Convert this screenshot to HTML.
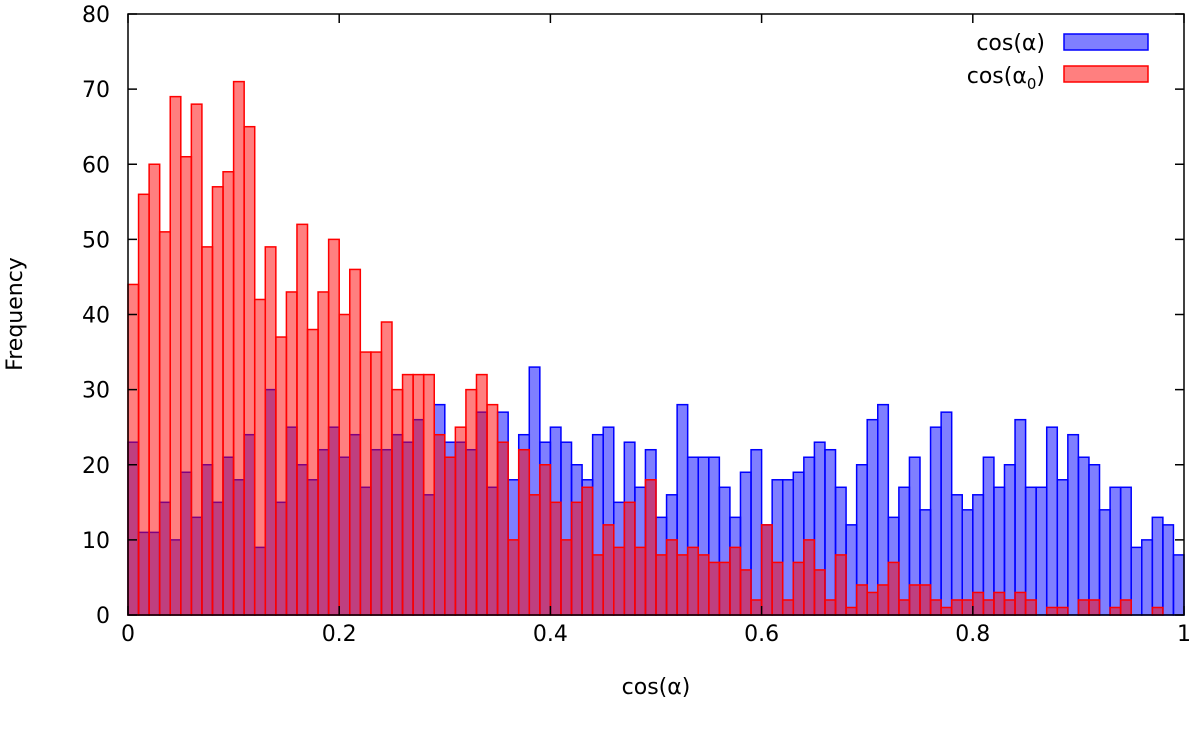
<!DOCTYPE html>
<html><head><meta charset="utf-8"><style>
body{margin:0;background:#fff;}
svg{display:block;font-family:"DejaVu Sans","Liberation Sans",sans-serif;}
</style></head><body>
<svg id="chart" width="1200" height="734" viewBox="0 0 1200 734" xmlns="http://www.w3.org/2000/svg">
<g id="bars"></g>
<rect x="128" y="14" width="1056" height="601" fill="none" stroke="#000" stroke-width="1.5"/>
<g id="ticks"></g>
<text x="656" y="694" font-size="22" text-anchor="middle">cos(α)</text>
<text transform="translate(22,314) rotate(-90)" font-size="22" text-anchor="middle">Frequency</text>
<g>
<text x="1045" y="50" font-size="22" text-anchor="end">cos(α)</text>
<rect x="1064" y="34" width="84" height="16" fill="rgba(0,0,255,0.5)" stroke="#0000ff" stroke-width="1.5"/>
<text x="1045" y="83" font-size="22" text-anchor="end">cos(α<tspan font-size="15" dy="6">0</tspan><tspan dy="-6">)</tspan></text>
<rect x="1064" y="66" width="84" height="16" fill="rgba(255,0,0,0.5)" stroke="#ff0000" stroke-width="1.5"/>
</g>
</svg>
<script>
const binStarts = Array.from({length:100},(_, i)=>i/100);
const cosAlpha = [23,11,11,15,10,19,13,20,15,21,18,24,9,30,15,25,20,18,22,25,
21,24,17,22,22,24,23,26,16,28,23,23,22,27,17,27,18,24,33,23,
25,23,20,18,24,25,15,23,17,22,13,16,28,21,21,21,17,13,19,22,
12,18,18,19,21,23,22,17,12,20,26,28,13,17,21,14,25,27,16,14,
16,21,17,20,26,17,17,25,18,24,21,20,14,17,17,9,10,13,12,8];
const cosAlpha0 = [44,56,60,51,69,61,68,49,57,59,71,65,42,49,37,43,52,38,43,50,
40,46,35,35,39,30,32,32,32,24,21,25,30,32,28,23,10,22,16,20,
15,10,15,17,8,12,9,15,9,18,8,10,8,9,8,7,7,9,6,2,
12,7,2,7,10,6,2,8,1,4,3,4,7,2,4,4,2,1,2,2,
3,2,3,2,3,2,0,1,1,0,2,2,0,1,2,0,0,1,0,0];
const xTicks = [0,0.2,0.4,0.6,0.8,1];
const xTickLabels = ["0","0.2","0.4","0.6","0.8","1"];
const yTicks = [0,10,20,30,40,50,60,70,80];
const binWidth = 0.01;
const X0=128,X1=1184,Y0=615,Y1=14;
const xs = v => X0 + v*(X1-X0);
const ys = v => Y0 - v/80*(Y0-Y1);
const NS="http://www.w3.org/2000/svg";
const bars=document.getElementById('bars');
function drawSeries(vals, fill, stroke, name){
  const g=document.createElementNS(NS,'g');
  
  
  vals.forEach((v,i)=>{
    if(v<=0) return;
    const r=document.createElementNS(NS,'rect');
    
    
    const x=xs(binStarts[i]), w=xs(binStarts[i]+binWidth)-x;
    r.setAttribute('x',x); r.setAttribute('width',w);
    r.setAttribute('y',ys(v)); r.setAttribute('height',Y0-ys(v));
    r.setAttribute('fill',fill); r.setAttribute('stroke',stroke); r.setAttribute('stroke-width','1.5');
    g.appendChild(r);
  });
  bars.appendChild(g);
}
drawSeries(cosAlpha,'rgba(0,0,255,0.5)','#0000ff','cos-alpha');
drawSeries(cosAlpha0,'rgba(255,0,0,0.5)','#ff0000','cos-alpha0');
const tg=document.getElementById('ticks');
xTicks.forEach((t,i)=>{
  const x=xs(t);
  [[Y0,Y0-9],[Y1,Y1+9]].forEach(([a,b])=>{
    const l=document.createElementNS(NS,'line');
    
    
    l.setAttribute('x1',x);l.setAttribute('x2',x);l.setAttribute('y1',a);l.setAttribute('y2',b);
    l.setAttribute('stroke','#000');l.setAttribute('stroke-width','1.5');tg.appendChild(l);
  });
  const tx=document.createElementNS(NS,'text');
  
  
  tx.setAttribute('x',x);tx.setAttribute('y',641);tx.setAttribute('font-size','22');tx.setAttribute('text-anchor','middle');
  tx.textContent=xTickLabels[i];tg.appendChild(tx);
});
yTicks.forEach(t=>{
  const y=ys(t);
  [[X0,X0+9],[X1,X1-9]].forEach(([a,b])=>{
    const l=document.createElementNS(NS,'line');
    
    
    l.setAttribute('x1',a);l.setAttribute('x2',b);l.setAttribute('y1',y);l.setAttribute('y2',y);
    l.setAttribute('stroke','#000');l.setAttribute('stroke-width','1.5');tg.appendChild(l);
  });
  const tx=document.createElementNS(NS,'text');
  
  
  tx.setAttribute('x',110);tx.setAttribute('y',y+8);tx.setAttribute('font-size','22');tx.setAttribute('text-anchor','end');
  tx.textContent=String(t);tg.appendChild(tx);
});
</script>
</body></html>
